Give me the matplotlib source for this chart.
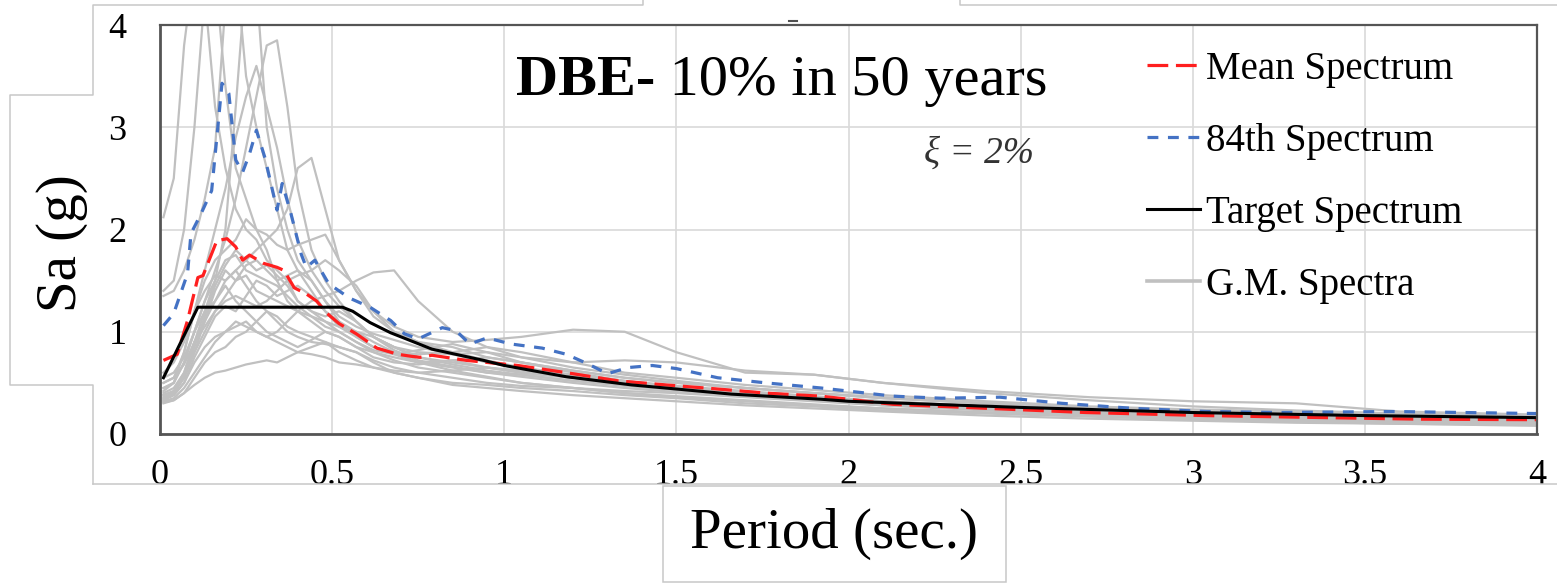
import matplotlib
matplotlib.use("Agg")
import matplotlib.pyplot as plt
from matplotlib.lines import Line2D
from matplotlib.patches import Rectangle

plt.rcParams['font.family'] = ['Liberation Serif', 'DejaVu Serif']

W, H = 1557, 584

# ---- response spectra data ----
T_gm = [0.01, 0.04, 0.07, 0.10, 0.13, 0.16, 0.19, 0.22, 0.25, 0.28, 0.31, 0.34,
        0.37, 0.40, 0.44, 0.48, 0.52, 0.57, 0.62, 0.68, 0.75, 0.85, 0.95, 1.05,
        1.20, 1.35, 1.50, 1.70, 1.90, 2.10, 2.40, 2.70, 3.00, 3.30, 3.60, 4.00]

gm_01 = [2.12, 2.50, 3.80, 4.60, 4.30, 3.20, 2.60, 2.20, 2.00, 1.90, 1.70, 1.60,
         1.50, 1.30, 1.20, 1.10, 1.00, 0.90, 0.80, 0.75, 0.70, 0.72, 0.65, 0.60,
         0.55, 0.50, 0.45, 0.40, 0.36, 0.32, 0.27, 0.23, 0.20, 0.18, 0.16, 0.14]
gm_02 = [1.40, 1.50, 2.00, 3.00, 4.30, 4.50, 3.40, 2.60, 2.30, 2.00, 1.80, 1.50,
         1.30, 1.20, 1.10, 1.00, 0.95, 0.85, 0.75, 0.70, 0.68, 0.72, 0.75, 0.70,
         0.62, 0.55, 0.50, 0.45, 0.40, 0.35, 0.30, 0.25, 0.22, 0.19, 0.17, 0.15]
gm_03 = [1.35, 1.40, 1.60, 1.90, 2.30, 2.80, 4.20, 4.60, 3.50, 3.00, 2.60, 2.20,
         1.80, 1.60, 1.40, 1.20, 1.05, 0.95, 0.85, 0.78, 0.70, 0.65, 0.60, 0.58,
         0.52, 0.48, 0.45, 0.40, 0.35, 0.30, 0.26, 0.22, 0.19, 0.17, 0.15, 0.13]
gm_04 = [0.45, 0.50, 0.70, 1.00, 1.30, 1.60, 1.90, 2.30, 2.80, 3.30, 3.80, 3.85,
         3.20, 2.40, 1.80, 1.50, 1.30, 1.10, 0.95, 0.85, 0.80, 0.78, 0.80, 0.75,
         0.65, 0.58, 0.52, 0.45, 0.40, 0.35, 0.30, 0.25, 0.22, 0.20, 0.18, 0.16]
gm_05 = [0.40, 0.45, 0.60, 0.90, 1.10, 1.30, 1.50, 1.60, 1.70, 1.80, 1.90, 2.00,
         2.20, 2.60, 2.70, 2.20, 1.70, 1.40, 1.20, 1.00, 0.90, 0.85, 0.75, 0.70,
         0.62, 0.55, 0.50, 0.45, 0.40, 0.36, 0.30, 0.26, 0.22, 0.20, 0.18, 0.17]
gm_06 = [0.50, 0.55, 0.80, 1.20, 1.60, 2.00, 2.40, 2.90, 3.30, 3.60, 3.20, 2.80,
         2.30, 1.90, 1.60, 1.40, 1.25, 1.10, 0.95, 0.85, 0.75, 0.70, 0.65, 0.60,
         0.55, 0.50, 0.45, 0.40, 0.36, 0.32, 0.27, 0.23, 0.20, 0.18, 0.16, 0.14]
gm_07 = [0.38, 0.42, 0.60, 0.90, 1.20, 1.50, 2.00, 3.20, 4.50, 4.40, 3.00, 2.40,
         2.00, 1.70, 1.50, 1.30, 1.10, 0.95, 0.85, 0.80, 0.78, 0.80, 0.85, 0.80,
         0.70, 0.60, 0.55, 0.48, 0.43, 0.38, 0.32, 0.27, 0.24, 0.22, 0.20, 0.18]
gm_08 = [0.35, 0.40, 0.55, 0.80, 1.00, 1.20, 1.30, 1.35, 1.30, 1.25, 1.30, 1.40,
         1.50, 1.55, 1.60, 1.70, 1.60, 1.45, 1.20, 1.05, 0.95, 0.90, 0.92, 0.95,
         1.02, 1.00, 0.80, 0.60, 0.58, 0.50, 0.40, 0.33, 0.27, 0.23, 0.20, 0.17]
gm_09 = [0.33, 0.38, 0.50, 0.70, 0.85, 0.95, 1.00, 1.05, 1.10, 1.00, 0.95, 1.00,
         1.10, 1.20, 1.30, 1.35, 1.40, 1.50, 1.58, 1.60, 1.30, 1.00, 0.85, 0.75,
         0.70, 0.72, 0.70, 0.62, 0.58, 0.50, 0.42, 0.36, 0.32, 0.30, 0.22, 0.19]
gm_10 = [0.42, 0.50, 0.80, 1.20, 1.50, 1.70, 1.80, 1.90, 2.10, 2.00, 1.95, 1.85,
         1.80, 1.85, 1.90, 1.95, 1.70, 1.40, 1.15, 1.00, 0.90, 0.80, 0.72, 0.65,
         0.58, 0.52, 0.47, 0.42, 0.37, 0.32, 0.27, 0.23, 0.20, 0.17, 0.15, 0.13]
gm_11 = [0.60, 0.70, 0.90, 1.20, 1.40, 1.55, 1.50, 1.60, 1.45, 1.30, 1.20, 1.10,
         1.00, 0.95, 0.90, 0.88, 0.85, 0.80, 0.72, 0.65, 0.60, 0.55, 0.50, 0.47,
         0.45, 0.42, 0.40, 0.36, 0.32, 0.28, 0.24, 0.20, 0.17, 0.15, 0.13, 0.11]
gm_12 = [0.55, 0.60, 0.75, 1.00, 1.20, 1.30, 1.45, 1.30, 1.20, 1.10, 1.00, 0.95,
         0.90, 0.85, 0.92, 1.00, 0.95, 0.85, 0.80, 0.72, 0.65, 0.60, 0.55, 0.50,
         0.45, 0.40, 0.37, 0.33, 0.29, 0.25, 0.21, 0.18, 0.15, 0.13, 0.11, 0.09]
gm_13 = [0.32, 0.35, 0.45, 0.60, 0.75, 0.90, 1.00, 1.10, 1.05, 1.00, 0.95, 0.90,
         0.85, 0.80, 0.78, 0.75, 0.70, 0.68, 0.65, 0.60, 0.55, 0.50, 0.48, 0.45,
         0.42, 0.38, 0.35, 0.30, 0.27, 0.23, 0.20, 0.17, 0.14, 0.12, 0.10, 0.08]
gm_14 = [0.36, 0.40, 0.55, 0.80, 1.10, 1.40, 1.60, 1.50, 1.55, 1.40, 1.35, 1.30,
         1.25, 1.20, 1.15, 1.05, 1.00, 0.90, 0.82, 0.78, 0.82, 0.88, 0.80, 0.70,
         0.60, 0.52, 0.46, 0.41, 0.36, 0.31, 0.26, 0.22, 0.19, 0.16, 0.14, 0.12]
gm_15 = [0.30, 0.33, 0.40, 0.55, 0.70, 0.80, 0.85, 0.95, 1.00, 1.10, 1.20, 1.15,
         1.05, 1.00, 0.95, 0.90, 0.80, 0.72, 0.65, 0.62, 0.60, 0.62, 0.65, 0.62,
         0.55, 0.48, 0.43, 0.38, 0.33, 0.28, 0.23, 0.19, 0.16, 0.14, 0.12, 0.10]
gm_16 = [0.34, 0.38, 0.50, 0.75, 0.95, 1.15, 1.25, 1.20, 1.35, 1.50, 1.45, 1.35,
         1.40, 1.45, 1.35, 1.20, 1.10, 1.00, 0.90, 0.80, 0.70, 0.62, 0.56, 0.50,
         0.45, 0.40, 0.36, 0.32, 0.28, 0.25, 0.21, 0.18, 0.16, 0.14, 0.12, 0.10]
gm_17 = [0.31, 0.33, 0.40, 0.48, 0.55, 0.60, 0.62, 0.65, 0.68, 0.70, 0.72, 0.70,
         0.75, 0.80, 0.85, 0.90, 0.85, 0.80, 0.70, 0.60, 0.55, 0.48, 0.45, 0.42,
         0.38, 0.35, 0.32, 0.28, 0.25, 0.22, 0.18, 0.15, 0.13, 0.11, 0.10, 0.09]
gm_18 = [0.45, 0.50, 0.70, 1.00, 1.30, 1.50, 1.70, 1.75, 1.60, 1.55, 1.50, 1.45,
         1.35, 1.25, 1.15, 1.10, 1.05, 1.00, 0.95, 0.85, 0.75, 0.68, 0.62, 0.58,
         0.52, 0.47, 0.43, 0.38, 0.34, 0.30, 0.25, 0.21, 0.18, 0.16, 0.14, 0.12]
gm_19 = [0.38, 0.42, 0.58, 0.85, 1.15, 1.45, 1.65, 1.80, 1.70, 1.60, 1.65, 1.55,
         1.45, 1.30, 1.20, 1.15, 1.20, 1.10, 0.95, 0.82, 0.72, 0.66, 0.60, 0.56,
         0.50, 0.45, 0.41, 0.37, 0.33, 0.29, 0.24, 0.20, 0.17, 0.15, 0.13, 0.11]
gm_20 = [0.50, 0.55, 0.68, 0.90, 1.05, 1.20, 1.35, 1.50, 1.65, 1.70, 1.60, 1.50,
         1.55, 1.60, 1.50, 1.30, 1.15, 1.05, 0.98, 0.92, 0.85, 0.78, 0.70, 0.64,
         0.57, 0.50, 0.45, 0.40, 0.36, 0.31, 0.26, 0.22, 0.19, 0.17, 0.15, 0.13]

T_mean = [0.01, 0.05, 0.08, 0.11, 0.125, 0.165, 0.195, 0.22, 0.24, 0.26, 0.30, 0.34,
          0.36, 0.39, 0.425, 0.455, 0.485, 0.52, 0.57, 0.63, 0.69, 0.73, 0.755, 0.79,
          0.89, 1.04, 1.18, 1.33, 1.47, 1.62, 1.76, 1.92, 2.13, 2.41, 2.69, 3.04,
          3.39, 3.66, 4.00]
Sa_mean = [0.72, 0.78, 1.11, 1.53, 1.55, 1.89, 1.91, 1.83, 1.70, 1.75, 1.67, 1.63,
           1.60, 1.43, 1.37, 1.30, 1.18, 1.08, 0.98, 0.84, 0.78, 0.76, 0.75, 0.77,
           0.72, 0.67, 0.60, 0.52, 0.48, 0.44, 0.40, 0.37, 0.29, 0.25, 0.21, 0.18,
           0.16, 0.145, 0.14]

T_84 = [0.01, 0.04, 0.08, 0.09, 0.12, 0.15, 0.17, 0.18, 0.20, 0.22, 0.24, 0.26,
        0.28, 0.305, 0.34, 0.355, 0.38, 0.41, 0.425, 0.45, 0.49, 0.55, 0.61, 0.67,
        0.71, 0.75, 0.82, 0.86, 0.90, 0.95, 1.02, 1.11, 1.18, 1.24, 1.30, 1.36,
        1.43, 1.50, 1.62, 1.76, 1.92, 2.13, 2.27, 2.44, 2.62, 2.83, 3.04, 3.25,
        3.58, 4.00]
Sa_84 = [1.06, 1.18, 1.57, 1.96, 2.16, 2.38, 3.07, 3.43, 3.33, 2.68, 2.56, 2.74,
         2.97, 2.70, 2.19, 2.45, 2.16, 1.76, 1.63, 1.70, 1.47, 1.33, 1.24, 1.11,
         0.98, 0.93, 1.04, 1.01, 0.88, 0.94, 0.88, 0.84, 0.78, 0.69, 0.59, 0.65,
         0.67, 0.64, 0.55, 0.50, 0.45, 0.37, 0.35, 0.36, 0.30, 0.25, 0.22, 0.21,
         0.22, 0.20]

T_target = [0.01, 0.11, 0.53, 0.56, 0.61, 0.67, 0.73, 0.79, 0.94, 1.00, 1.18, 1.37,
            1.50, 1.66, 1.92, 2.00, 2.50, 3.00, 3.50, 4.00]
Sa_target = [0.55, 1.24, 1.24, 1.20, 1.09, 0.99, 0.91, 0.83, 0.72, 0.67, 0.56, 0.48,
             0.44, 0.39, 0.34, 0.32, 0.26, 0.21, 0.18, 0.16]

gm_records = [gm_01, gm_02, gm_03, gm_04, gm_05, gm_06, gm_07, gm_08, gm_09,
              gm_10, gm_11, gm_12, gm_13, gm_14, gm_15, gm_16, gm_17, gm_18,
              gm_19, gm_20]

x_ticks = [0, 0.5, 1, 1.5, 2, 2.5, 3, 3.5, 4]
x_labels = ['0', '0.5', '1', '1.5', '2', '2.5', '3', '3.5', '4']
y_ticks = [0, 1, 2, 3, 4]
y_labels = ['0', '1', '2', '3', '4']


def fx(px):
    return px / W


def fy(py):
    return 1 - py / H


fig = plt.figure(figsize=(W / 100, H / 100), dpi=100)
fig.patch.set_facecolor('white')

# outer frame of the chart area (light grey outline with notches)
frame_col = '#c8c8c8'
frame_lw = 1.1
fig.add_artist(Line2D([fx(93), fx(93), fx(10), fx(10), fx(93), fx(93), fx(643), fx(643)],
                      [fy(484), fy(385), fy(385), fy(95), fy(95), fy(5), fy(5), fy(0)],
                      color=frame_col, lw=frame_lw))
fig.add_artist(Line2D([fx(960), fx(960), fx(1557)], [fy(0), fy(5), fy(5)],
                      color=frame_col, lw=frame_lw))
fig.add_artist(Line2D([fx(93), fx(1557)], [fy(484), fy(484)],
                      color=frame_col, lw=frame_lw))
fig.add_artist(Rectangle((fx(663), fy(582)), fx(1006) - fx(663), fy(486) - fy(582),
                         transform=fig.transFigure, fill=False,
                         edgecolor=frame_col, lw=frame_lw))
fig.add_artist(Line2D([fx(789), fx(797)], [fy(21), fy(21)], color='#505050', lw=1.5))

ax = fig.add_axes([fx(160), fy(434), fx(1537) - fx(160), fy(25) - fy(434)])

for i, rec in enumerate(gm_records):
    ax.plot(T_gm, rec, color='#c0c0c0', lw=1.6, zorder=2,
            label='G.M. Spectra' if i == 0 else None)

l_mean, = ax.plot(T_mean, Sa_mean, color='#ff1f1f', lw=2.3, dashes=(6.5, 2.4),
                  zorder=4, label='Mean Spectrum')
l_84, = ax.plot(T_84, Sa_84, color='#4472c4', lw=2.3, dashes=(3.4, 3.0),
                zorder=5, label='84th Spectrum')
l_tgt, = ax.plot(T_target, Sa_target, color='black', lw=2.2, zorder=6,
                 label='Target Spectrum')
l_gm = ax.lines[0]

ax.set_xlim(0, 4)
ax.set_ylim(0, 4)
ax.set_xticks(x_ticks)
ax.set_xticklabels(x_labels)
ax.set_yticks(y_ticks)
ax.set_yticklabels(y_labels)
ax.tick_params(axis='both', length=0, labelsize=26)
ax.tick_params(axis='x', pad=18)
ax.tick_params(axis='y', pad=24)
ax.grid(True, color='#d9d9d9', lw=1.2)
ax.set_axisbelow(True)
for side, sp in ax.spines.items():
    sp.set_color('#555555')
    sp.set_linewidth(2.0 if side in ('left', 'bottom') else 1.6)
    sp.set_zorder(7)

fig.text(fx(62), fy(243), 'Sa (g)', rotation=90, fontsize=41,
         ha='center', va='center')
fig.text(fx(834), fy(534), 'Period (sec.)', fontsize=41, ha='center', va='center')

t1 = ax.text(fx(516), fy(95), 'DBE-', transform=fig.transFigure, fontsize=42,
             fontweight='bold', ha='left', va='baseline', zorder=8)
ax.annotate(' 10% in 50 years', xy=(1, 0), xycoords=t1, fontsize=42,
            ha='left', va='bottom', zorder=8)
fig.text(fx(924), fy(163), 'ξ = 2%', fontsize=27, style='italic',
         color='#333333', ha='left', va='baseline')

leg = ax.legend([l_mean, l_84, l_tgt, l_gm],
                ['Mean Spectrum', '84th Spectrum', 'Target Spectrum', 'G.M. Spectra'],
                loc='upper left', bbox_to_anchor=(fx(1147), fy(51)),
                bbox_transform=fig.transFigure, frameon=False, fontsize=28,
                handlelength=1.36, handletextpad=0.15, labelspacing=0.9,
                borderpad=0, borderaxespad=0)
leg.set_zorder(9)
leg.get_lines()[3].set_linewidth(2.6)

fig.savefig('out.png', dpi=100, facecolor='white')
